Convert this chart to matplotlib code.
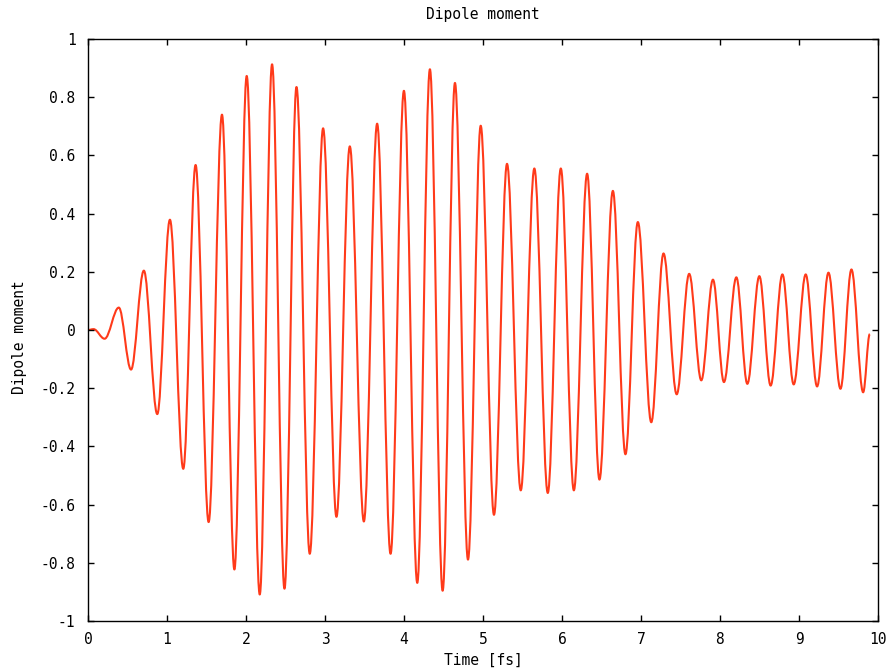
import matplotlib
matplotlib.use("Agg")
import matplotlib.pyplot as plt
from matplotlib.path import Path
from matplotlib.patches import PathPatch

# Extrema of the dipole-moment oscillation (time in fs)
times = [0.0, 0.07, 0.21, 0.39, 0.545, 0.707, 0.877, 1.037, 1.206, 1.362, 1.527, 1.696,
         1.853, 2.009, 2.174, 2.33, 2.487, 2.639, 2.807, 2.976, 3.145, 3.314, 3.492, 3.66,
         3.83, 3.999, 4.168, 4.328, 4.489, 4.645, 4.81, 4.971, 5.139, 5.304, 5.478, 5.65,
         5.82, 5.985, 6.15, 6.318, 6.474, 6.644, 6.803, 6.96, 7.13, 7.285, 7.452, 7.61,
         7.763, 7.911, 8.05, 8.207, 8.346, 8.498, 8.641, 8.79, 8.933, 9.085, 9.229, 9.373,
         9.525, 9.664, 9.812, 9.896]
dipole = [0.0, 0.003, -0.03, 0.077, -0.136, 0.204, -0.289, 0.379, -0.477, 0.567, -0.66, 0.74,
          -0.823, 0.873, -0.909, 0.913, -0.889, 0.835, -0.769, 0.693, -0.642, 0.631, -0.658, 0.709,
          -0.769, 0.822, -0.869, 0.896, -0.896, 0.849, -0.789, 0.702, -0.635, 0.571, -0.551, 0.555,
          -0.56, 0.555, -0.551, 0.537, -0.514, 0.478, -0.427, 0.371, -0.317, 0.263, -0.221, 0.193,
          -0.173, 0.173, -0.179, 0.181, -0.185, 0.185, -0.191, 0.191, -0.187, 0.191, -0.194, 0.197,
          -0.202, 0.208, -0.214, -0.014]

x_ticks = [0, 1, 2, 3, 4, 5, 6, 7, 8, 9, 10]
y_ticks = [-1, -0.8, -0.6, -0.4, -0.2, 0, 0.2, 0.4, 0.6, 0.8, 1]
y_tick_labels = ["-1", "-0.8", "-0.6", "-0.4", "-0.2", "0", "0.2", "0.4", "0.6", "0.8", "1"]

FONT = "DejaVu Sans Mono"
LINE = "#ff3a1a"
FS = 10.5

fig = plt.figure(figsize=(8.9, 6.69), dpi=100)
ax = fig.add_axes([88 / 890, 1 - 621 / 669, (878 - 88) / 890, (621 - 39) / 669])

# Smooth curve through the extrema (horizontal tangents at each extremum)
verts = [(times[0], dipole[0])]
codes = [Path.MOVETO]
k = 0.36
for i in range(1, len(times)):
    t0, v0 = times[i - 1], dipole[i - 1]
    t1, v1 = times[i], dipole[i]
    dt = t1 - t0
    verts += [(t0 + k * dt, v0), (t1 - k * dt, v1), (t1, v1)]
    codes += [Path.CURVE4, Path.CURVE4, Path.CURVE4]
path = Path(verts, codes)
ax.add_patch(PathPatch(path, fill=False, edgecolor=LINE, linewidth=1.5, joinstyle="round"))

ax.set_xlim(0, 10)
ax.set_ylim(-1, 1)
ax.set_xticks(x_ticks)
ax.set_xticklabels([str(t) for t in x_ticks], fontfamily=FONT, fontsize=FS)
ax.set_yticks(y_ticks)
ax.set_yticklabels(y_tick_labels, fontfamily=FONT, fontsize=FS)
ax.tick_params(direction="in", top=True, right=True, length=4.5, width=1.0,
               color="black", labelcolor="black")
ax.tick_params(axis="x", pad=8)
ax.tick_params(axis="y", pad=9)
for s in ax.spines.values():
    s.set_linewidth(1.0)
    s.set_color("black")

fig.text(483 / 890, 1 - 14 / 669, "Dipole moment", ha="center", va="center",
         fontfamily=FONT, fontsize=FS)
fig.text(483 / 890, 1 - 660 / 669, "Time [fs]", ha="center", va="center",
         fontfamily=FONT, fontsize=FS)
fig.text(20 / 890, 1 - 337 / 669, "Dipole moment", ha="center", va="center",
         rotation=90, fontfamily=FONT, fontsize=FS)

fig.savefig("out.png", dpi=100)
